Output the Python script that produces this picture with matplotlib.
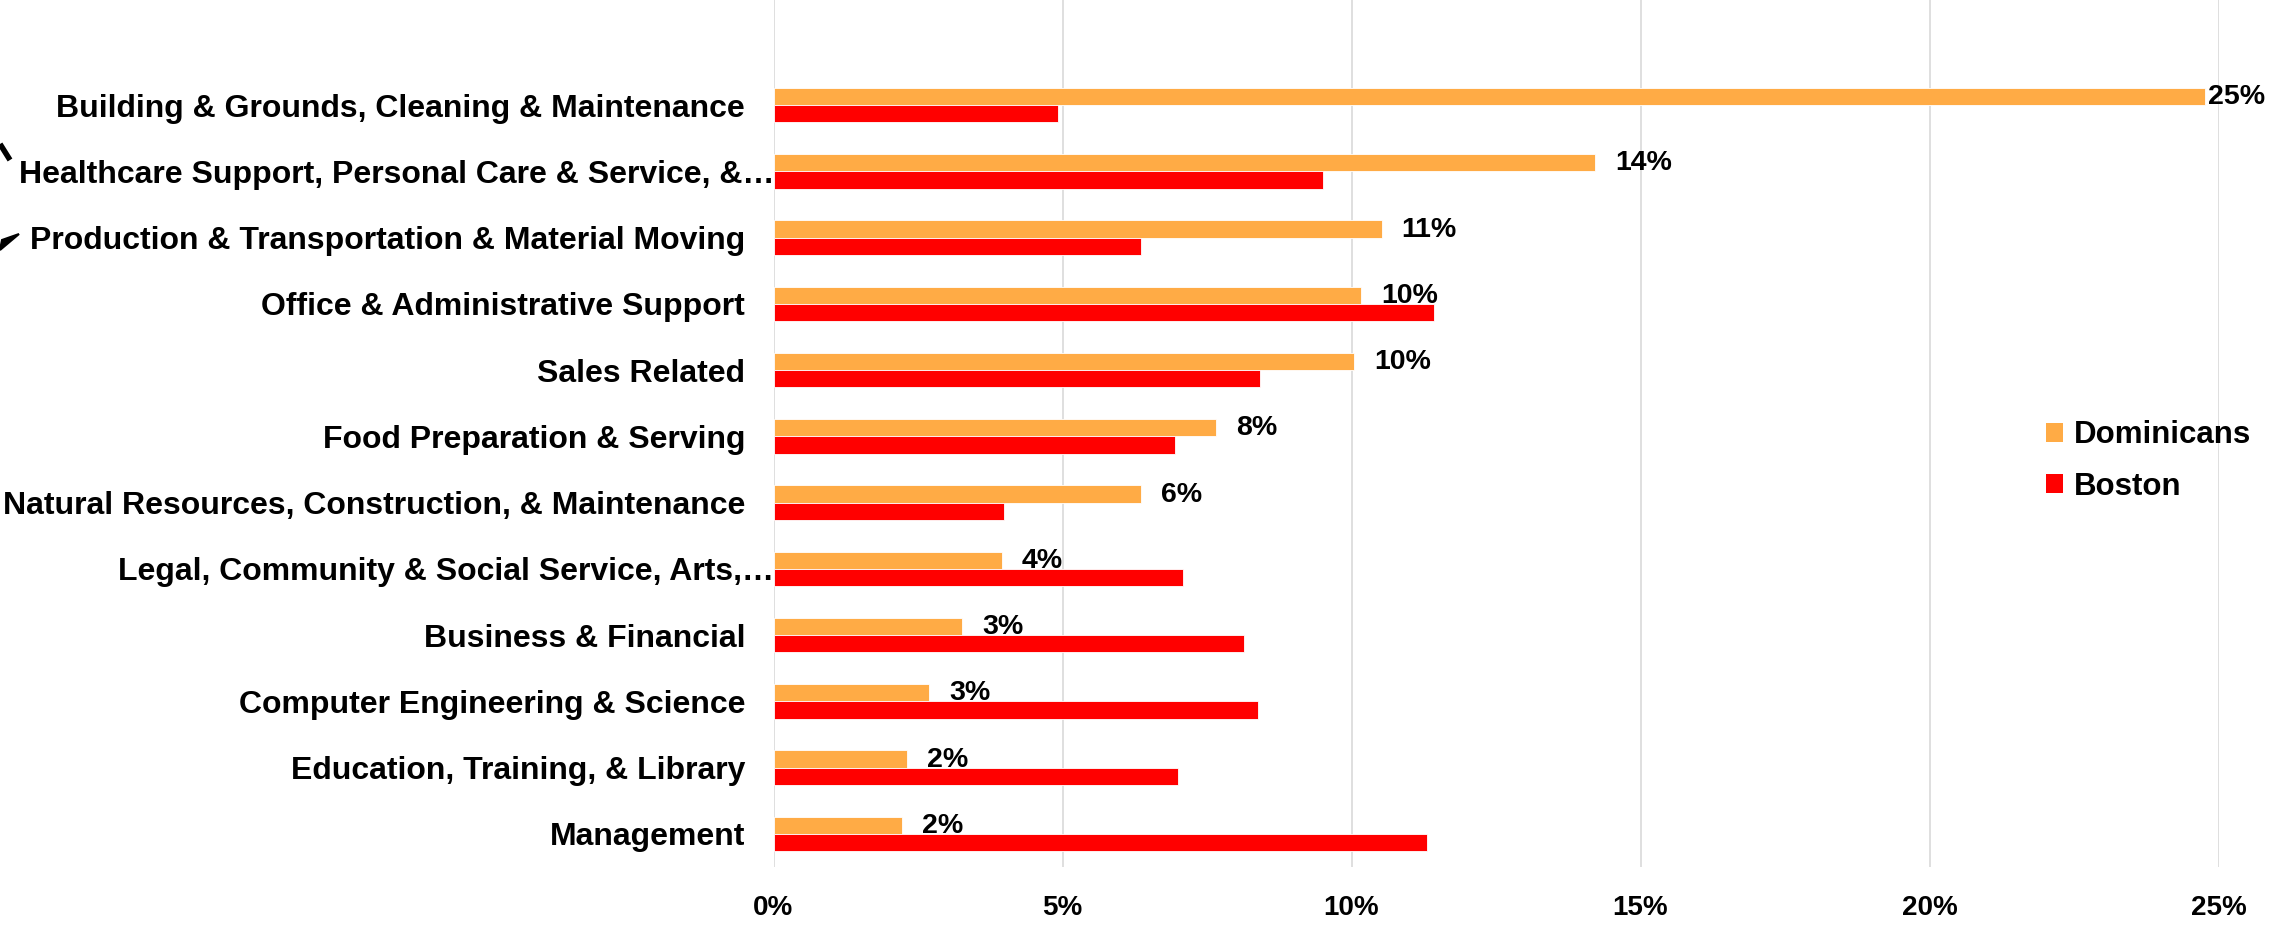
import matplotlib
matplotlib.use("Agg")
import matplotlib.pyplot as plt
from matplotlib.patches import Patch, Polygon
from matplotlib.lines import Line2D
import matplotlib.transforms as mtransforms
import numpy as np

plt.rcParams['font.family'] = ['Liberation Sans', 'DejaVu Sans']
plt.rcParams['font.weight'] = 'bold'

categories = [
    "Building & Grounds, Cleaning & Maintenance",
    "Healthcare Support, Personal Care & Service, &\u2026",
    "Production & Transportation & Material Moving",
    "Office & Administrative Support",
    "Sales Related",
    "Food Preparation & Serving",
    "Natural Resources, Construction, & Maintenance",
    "Legal, Community & Social Service, Arts,\u2026",
    "Business & Financial",
    "Computer Engineering & Science",
    "Education, Training, & Library",
    "Management",
]
dominicans = [24.76, 14.22, 10.52, 10.16, 10.05, 7.65, 6.36, 3.95, 3.26, 2.69, 2.31, 2.22]
boston = [4.93, 9.51, 6.36, 11.42, 8.41, 6.94, 3.99, 7.08, 8.14, 8.38, 6.99, 11.31]
series_names = ["Dominicans", "Boston"]
xticks = [0, 5, 10, 15, 20, 25]

c_dom = '#FFAB45'
c_bos = '#FF0000'

W, H = 2279, 950
fig = plt.figure(figsize=(W / 100, H / 100), dpi=100)
ax = fig.add_axes([773.5 / W, 83 / H, (2218.6 - 773.5) / W, 1 - 83 / H])

n = len(categories)
y = np.arange(n)[::-1].astype(float)
h = 0.26
ax.barh(y + h / 2, dominicans, height=h, color=c_dom, edgecolor='white', linewidth=0.6, label=series_names[0], zorder=3)
ax.barh(y - h / 2, boston, height=h, color=c_bos, edgecolor='white', linewidth=0.6, label=series_names[1], zorder=3)

ax.set_xlim(0, 25)
ax.set_ylim(-0.5, 12.585)
ax.set_xticks(xticks)
ax.set_xticklabels([f"{t}%" for t in xticks], fontsize=20, fontweight='bold')
ax.set_yticks(y)
ax.set_yticklabels(categories, fontsize=23, fontweight='bold')
ax.tick_params(axis='both', length=0)
ax.tick_params(axis='y', pad=20.5)
ax.tick_params(axis='x', pad=20)
ax.grid(axis='x', color='#D9D9D9', linewidth=1.2, zorder=0)
ax.grid(axis='y', visible=False)
for s in ax.spines.values():
    s.set_visible(False)

# truncated labels extend further right (Excel ellipsis)
for lab in ax.get_yticklabels():
    if lab.get_text().endswith('\u2026'):
        lab.set_transform(lab.get_transform() + mtransforms.ScaledTranslation(29 / 100, 0, fig.dpi_scale_trans))

fig.canvas.draw()
renderer = fig.canvas.get_renderer()
for yi, v in zip(y, dominicans):
    t = ax.annotate(f"{round(v)}%", xy=(v, yi + h / 2), xytext=(14.4, -0.5), textcoords='offset points',
                    ha='left', va='center', fontsize=20.5, fontweight='bold', zorder=5)
    bb = t.get_window_extent(renderer)
    if bb.x1 > W - 12:
        t.set_position((14.4 - (bb.x1 - (W - 14)) * 0.72, -0.5))

handles = [Patch(facecolor=c_dom), Patch(facecolor=c_bos)]
fig.legend(handles, series_names, loc='center left', bbox_to_anchor=(2046 / W, 1 - 461 / H),
           frameon=False, prop={'weight': 'bold', 'size': 22.5},
           handlelength=0.55, handleheight=0.55, handletextpad=0.33, labelspacing=0.68, borderpad=0,
           borderaxespad=0)

# cut-off annotation arrows at left edge
fig.add_artist(Line2D([0 / W, 10 / W], [1 - 144 / H, 1 - 160 / H], transform=fig.transFigure,
                      color='black', linewidth=4, solid_capstyle='butt'))
fig.add_artist(Polygon([[0 / W, 1 - 250 / H], [19 / W, 1 - 234 / H], [2 / W, 1 - 240 / H]],
                       closed=True, transform=fig.transFigure, facecolor='black', edgecolor='black', linewidth=1.5))

fig.savefig("out.png", dpi=100)
